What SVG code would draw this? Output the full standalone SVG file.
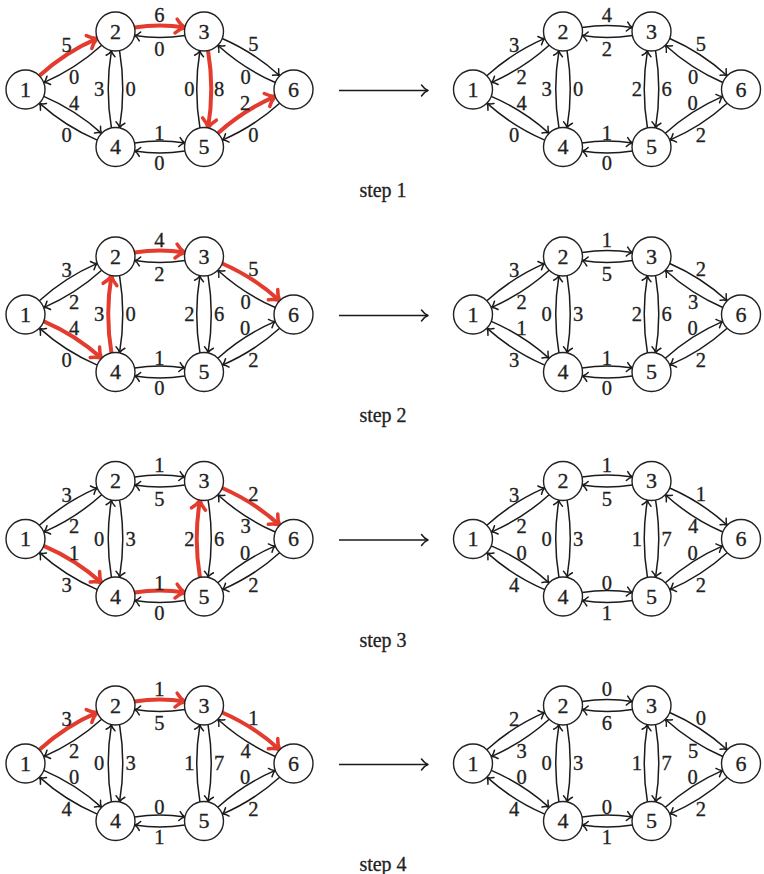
<svg xmlns="http://www.w3.org/2000/svg" width="764" height="874" viewBox="0 0 764 874">
<style>
.n circle{fill:#fff;stroke:#222;stroke-width:1.4}
text{font-family:"Liberation Serif","Times New Roman",serif;fill:#222;stroke:#222;stroke-width:0.3;text-anchor:middle}
.n text{font-size:22px}
.lb text{font-size:20.5px}
.st{font-size:20px}
.e path{fill:none;stroke:#1a1a1a;stroke-width:1.5;marker-end:url(#ab)}
.e path.r{stroke:#e33b2e;stroke-width:4;marker-end:url(#ar)}
.big{fill:none;stroke:#1a1a1a;stroke-width:1.5;marker-end:url(#ah)}
</style>
<defs>
<marker id="ab" markerUnits="userSpaceOnUse" viewBox="-8 -6 10 12" markerWidth="10" markerHeight="12" refX="0" refY="0" orient="auto" overflow="visible"><path d="M-5.5,-4.5 C-3.8,-2.2 -1.6,-0.5 0,0 C-1.6,0.5 -3.8,2.2 -5.5,4.5" fill="none" stroke="#1a1a1a" stroke-width="1.5" stroke-linecap="round" stroke-linejoin="round"/></marker>
<marker id="ar" markerUnits="userSpaceOnUse" viewBox="-12 -9 14 18" markerWidth="14" markerHeight="18" refX="0" refY="0" orient="auto" overflow="visible"><path d="M-9,-7 C-6,-3.5 -2.5,-1 0,0 C-2.5,1 -6,3.5 -9,7" fill="none" stroke="#e33b2e" stroke-width="3.5" stroke-linecap="round" stroke-linejoin="round"/></marker>
<marker id="ah" markerUnits="userSpaceOnUse" viewBox="-9 -7 11 14" markerWidth="11" markerHeight="14" refX="0" refY="0" orient="auto" overflow="visible"><path d="M-6.5,-5.5 C-4.5,-2.8 -2,-0.7 0,0 C-2,0.7 -4.5,2.8 -6.5,5.5" fill="none" stroke="#1a1a1a" stroke-width="1.5" stroke-linecap="round" stroke-linejoin="round"/></marker>
</defs>

<!-- STEP 1 LEFT -->
<g id="s1L" transform="translate(0,0)">
<g id="s1L-edges" class="e">
<path class="r" d="M39.34,75.77 Q65.22,52.30 97.28,38.43"/>
<path d="M101.66,45.23 Q75.78,68.70 43.72,82.57"/>
<path class="r" d="M134.57,27.45 Q159.75,23.5 184.93,27.45"/>
<path d="M184.93,35.55 Q159.75,39.5 134.57,35.55"/>
<path d="M111.45,127.93 Q105,89.25 111.45,50.57"/>
<path d="M119.55,50.57 Q126,89.25 119.55,127.93"/>
<path d="M199.95,127.93 Q193.5,89.25 199.95,50.57"/>
<path class="r" d="M208.05,50.57 Q214.5,89.25 208.05,127.93"/>
<path d="M222.20,38.47 Q254.05,52.32 279.70,75.73"/>
<path d="M275.30,82.53 Q243.45,68.68 217.80,45.27"/>
<path d="M43.75,96.36 Q75.75,110.03 101.61,133.32"/>
<path d="M97.25,140.14 Q65.25,126.47 39.39,103.18"/>
<path class="r" d="M217.85,133.28 Q243.48,110.05 275.27,96.40"/>
<path d="M279.65,103.22 Q254.02,126.45 222.23,140.10"/>
<path d="M134.57,142.95 Q159.75,139 184.93,142.95"/>
<path d="M184.93,151.05 Q159.75,155 134.57,151.05"/>
</g>
<g id="s1L-labels" class="lb">
<text x="66.7" y="52">5</text><text x="74" y="83.7">0</text>
<text x="159.3" y="22">6</text><text x="159.3" y="56.3">0</text>
<text x="99" y="96.3">3</text><text x="130.7" y="96.3">0</text>
<text x="189.3" y="96.3">0</text><text x="219" y="96.3">8</text>
<text x="253.3" y="51">5</text><text x="245.7" y="83.7">0</text>
<text x="74" y="110.3">4</text><text x="66.7" y="142">0</text>
<text x="245" y="110.3">2</text><text x="253.3" y="142">0</text>
<text x="159.3" y="140.3">1</text><text x="159.3" y="170.3">0</text>
</g>
<g id="s1L-n1" class="n"><circle cx="25.5" cy="89.5" r="19.5"/><text x="25.5" y="96.9">1</text></g>
<g id="s1L-n2" class="n"><circle cx="115.5" cy="31.5" r="19.5"/><text x="115.5" y="38.9">2</text></g>
<g id="s1L-n3" class="n"><circle cx="204" cy="31.5" r="19.5"/><text x="204" y="38.9">3</text></g>
<g id="s1L-n4" class="n"><circle cx="115.5" cy="147" r="19.5"/><text x="115.5" y="154.4">4</text></g>
<g id="s1L-n5" class="n"><circle cx="204" cy="147" r="19.5"/><text x="204" y="154.4">5</text></g>
<g id="s1L-n6" class="n"><circle cx="293.5" cy="89.5" r="19.5"/><text x="293.5" y="96.9">6</text></g>
</g>

<!-- STEP 1 RIGHT -->
<g id="s1R" transform="translate(447.5,0)">
<g id="s1R-edges" class="e">
<path d="M39.34,75.77 Q65.22,52.30 97.28,38.43"/>
<path d="M101.66,45.23 Q75.78,68.70 43.72,82.57"/>
<path d="M134.57,27.45 Q159.75,23.5 184.93,27.45"/>
<path d="M184.93,35.55 Q159.75,39.5 134.57,35.55"/>
<path d="M111.45,127.93 Q105,89.25 111.45,50.57"/>
<path d="M119.55,50.57 Q126,89.25 119.55,127.93"/>
<path d="M199.95,127.93 Q193.5,89.25 199.95,50.57"/>
<path d="M208.05,50.57 Q214.5,89.25 208.05,127.93"/>
<path d="M222.20,38.47 Q254.05,52.32 279.70,75.73"/>
<path d="M275.30,82.53 Q243.45,68.68 217.80,45.27"/>
<path d="M43.75,96.36 Q75.75,110.03 101.61,133.32"/>
<path d="M97.25,140.14 Q65.25,126.47 39.39,103.18"/>
<path d="M217.85,133.28 Q243.48,110.05 275.27,96.40"/>
<path d="M279.65,103.22 Q254.02,126.45 222.23,140.10"/>
<path d="M134.57,142.95 Q159.75,139 184.93,142.95"/>
<path d="M184.93,151.05 Q159.75,155 134.57,151.05"/>
</g>
<g id="s1R-labels" class="lb">
<text x="66.7" y="52">3</text><text x="74" y="83.7">2</text>
<text x="159.3" y="22">4</text><text x="159.3" y="56.3">2</text>
<text x="99" y="96.3">3</text><text x="130.7" y="96.3">0</text>
<text x="189.3" y="96.3">2</text><text x="219" y="96.3">6</text>
<text x="253.3" y="51">5</text><text x="245.7" y="83.7">0</text>
<text x="74" y="110.3">4</text><text x="66.7" y="142">0</text>
<text x="245" y="110.3">0</text><text x="253.3" y="142">2</text>
<text x="159.3" y="140.3">1</text><text x="159.3" y="170.3">0</text>
</g>
<g id="s1R-n1" class="n"><circle cx="25.5" cy="89.5" r="19.5"/><text x="25.5" y="96.9">1</text></g>
<g id="s1R-n2" class="n"><circle cx="115.5" cy="31.5" r="19.5"/><text x="115.5" y="38.9">2</text></g>
<g id="s1R-n3" class="n"><circle cx="204" cy="31.5" r="19.5"/><text x="204" y="38.9">3</text></g>
<g id="s1R-n4" class="n"><circle cx="115.5" cy="147" r="19.5"/><text x="115.5" y="154.4">4</text></g>
<g id="s1R-n5" class="n"><circle cx="204" cy="147" r="19.5"/><text x="204" y="154.4">5</text></g>
<g id="s1R-n6" class="n"><circle cx="293.5" cy="89.5" r="19.5"/><text x="293.5" y="96.9">6</text></g>
</g>

<!-- STEP 2 LEFT -->
<g id="s2L" transform="translate(0,225)">
<g id="s2L-edges" class="e">
<path d="M39.34,75.77 Q65.22,52.30 97.28,38.43"/>
<path d="M101.66,45.23 Q75.78,68.70 43.72,82.57"/>
<path class="r" d="M134.57,27.45 Q159.75,23.5 184.93,27.45"/>
<path d="M184.93,35.55 Q159.75,39.5 134.57,35.55"/>
<path class="r" d="M111.45,127.93 Q105,89.25 111.45,50.57"/>
<path d="M119.55,50.57 Q126,89.25 119.55,127.93"/>
<path d="M199.95,127.93 Q193.5,89.25 199.95,50.57"/>
<path d="M208.05,50.57 Q214.5,89.25 208.05,127.93"/>
<path class="r" d="M222.20,38.47 Q254.05,52.32 279.70,75.73"/>
<path d="M275.30,82.53 Q243.45,68.68 217.80,45.27"/>
<path class="r" d="M43.75,96.36 Q75.75,110.03 101.61,133.32"/>
<path d="M97.25,140.14 Q65.25,126.47 39.39,103.18"/>
<path d="M217.85,133.28 Q243.48,110.05 275.27,96.40"/>
<path d="M279.65,103.22 Q254.02,126.45 222.23,140.10"/>
<path d="M134.57,142.95 Q159.75,139 184.93,142.95"/>
<path d="M184.93,151.05 Q159.75,155 134.57,151.05"/>
</g>
<g id="s2L-labels" class="lb">
<text x="66.7" y="52">3</text><text x="74" y="83.7">2</text>
<text x="159.3" y="22">4</text><text x="159.3" y="56.3">2</text>
<text x="99" y="96.3">3</text><text x="130.7" y="96.3">0</text>
<text x="189.3" y="96.3">2</text><text x="219" y="96.3">6</text>
<text x="253.3" y="51">5</text><text x="245.7" y="83.7">0</text>
<text x="74" y="110.3">4</text><text x="66.7" y="142">0</text>
<text x="245" y="110.3">0</text><text x="253.3" y="142">2</text>
<text x="159.3" y="140.3">1</text><text x="159.3" y="170.3">0</text>
</g>
<g id="s2L-n1" class="n"><circle cx="25.5" cy="89.5" r="19.5"/><text x="25.5" y="96.9">1</text></g>
<g id="s2L-n2" class="n"><circle cx="115.5" cy="31.5" r="19.5"/><text x="115.5" y="38.9">2</text></g>
<g id="s2L-n3" class="n"><circle cx="204" cy="31.5" r="19.5"/><text x="204" y="38.9">3</text></g>
<g id="s2L-n4" class="n"><circle cx="115.5" cy="147" r="19.5"/><text x="115.5" y="154.4">4</text></g>
<g id="s2L-n5" class="n"><circle cx="204" cy="147" r="19.5"/><text x="204" y="154.4">5</text></g>
<g id="s2L-n6" class="n"><circle cx="293.5" cy="89.5" r="19.5"/><text x="293.5" y="96.9">6</text></g>
</g>

<!-- STEP 2 RIGHT -->
<g id="s2R" transform="translate(447.5,225)">
<g id="s2R-edges" class="e">
<path d="M39.34,75.77 Q65.22,52.30 97.28,38.43"/>
<path d="M101.66,45.23 Q75.78,68.70 43.72,82.57"/>
<path d="M134.57,27.45 Q159.75,23.5 184.93,27.45"/>
<path d="M184.93,35.55 Q159.75,39.5 134.57,35.55"/>
<path d="M111.45,127.93 Q105,89.25 111.45,50.57"/>
<path d="M119.55,50.57 Q126,89.25 119.55,127.93"/>
<path d="M199.95,127.93 Q193.5,89.25 199.95,50.57"/>
<path d="M208.05,50.57 Q214.5,89.25 208.05,127.93"/>
<path d="M222.20,38.47 Q254.05,52.32 279.70,75.73"/>
<path d="M275.30,82.53 Q243.45,68.68 217.80,45.27"/>
<path d="M43.75,96.36 Q75.75,110.03 101.61,133.32"/>
<path d="M97.25,140.14 Q65.25,126.47 39.39,103.18"/>
<path d="M217.85,133.28 Q243.48,110.05 275.27,96.40"/>
<path d="M279.65,103.22 Q254.02,126.45 222.23,140.10"/>
<path d="M134.57,142.95 Q159.75,139 184.93,142.95"/>
<path d="M184.93,151.05 Q159.75,155 134.57,151.05"/>
</g>
<g id="s2R-labels" class="lb">
<text x="66.7" y="52">3</text><text x="74" y="83.7">2</text>
<text x="159.3" y="22">1</text><text x="159.3" y="56.3">5</text>
<text x="99" y="96.3">0</text><text x="130.7" y="96.3">3</text>
<text x="189.3" y="96.3">2</text><text x="219" y="96.3">6</text>
<text x="253.3" y="51">2</text><text x="245.7" y="83.7">3</text>
<text x="74" y="110.3">1</text><text x="66.7" y="142">3</text>
<text x="245" y="110.3">0</text><text x="253.3" y="142">2</text>
<text x="159.3" y="140.3">1</text><text x="159.3" y="170.3">0</text>
</g>
<g id="s2R-n1" class="n"><circle cx="25.5" cy="89.5" r="19.5"/><text x="25.5" y="96.9">1</text></g>
<g id="s2R-n2" class="n"><circle cx="115.5" cy="31.5" r="19.5"/><text x="115.5" y="38.9">2</text></g>
<g id="s2R-n3" class="n"><circle cx="204" cy="31.5" r="19.5"/><text x="204" y="38.9">3</text></g>
<g id="s2R-n4" class="n"><circle cx="115.5" cy="147" r="19.5"/><text x="115.5" y="154.4">4</text></g>
<g id="s2R-n5" class="n"><circle cx="204" cy="147" r="19.5"/><text x="204" y="154.4">5</text></g>
<g id="s2R-n6" class="n"><circle cx="293.5" cy="89.5" r="19.5"/><text x="293.5" y="96.9">6</text></g>
</g>

<!-- STEP 3 LEFT -->
<g id="s3L" transform="translate(0,449.5)">
<g id="s3L-edges" class="e">
<path d="M39.34,75.77 Q65.22,52.30 97.28,38.43"/>
<path d="M101.66,45.23 Q75.78,68.70 43.72,82.57"/>
<path d="M134.57,27.45 Q159.75,23.5 184.93,27.45"/>
<path d="M184.93,35.55 Q159.75,39.5 134.57,35.55"/>
<path d="M111.45,127.93 Q105,89.25 111.45,50.57"/>
<path d="M119.55,50.57 Q126,89.25 119.55,127.93"/>
<path class="r" d="M199.95,127.93 Q193.5,89.25 199.95,50.57"/>
<path d="M208.05,50.57 Q214.5,89.25 208.05,127.93"/>
<path class="r" d="M222.20,38.47 Q254.05,52.32 279.70,75.73"/>
<path d="M275.30,82.53 Q243.45,68.68 217.80,45.27"/>
<path class="r" d="M43.75,96.36 Q75.75,110.03 101.61,133.32"/>
<path d="M97.25,140.14 Q65.25,126.47 39.39,103.18"/>
<path d="M217.85,133.28 Q243.48,110.05 275.27,96.40"/>
<path d="M279.65,103.22 Q254.02,126.45 222.23,140.10"/>
<path class="r" d="M134.57,142.95 Q159.75,139 184.93,142.95"/>
<path d="M184.93,151.05 Q159.75,155 134.57,151.05"/>
</g>
<g id="s3L-labels" class="lb">
<text x="66.7" y="52">3</text><text x="74" y="83.7">2</text>
<text x="159.3" y="22">1</text><text x="159.3" y="56.3">5</text>
<text x="99" y="96.3">0</text><text x="130.7" y="96.3">3</text>
<text x="189.3" y="96.3">2</text><text x="219" y="96.3">6</text>
<text x="253.3" y="51">2</text><text x="245.7" y="83.7">3</text>
<text x="74" y="110.3">1</text><text x="66.7" y="142">3</text>
<text x="245" y="110.3">0</text><text x="253.3" y="142">2</text>
<text x="159.3" y="140.3">1</text><text x="159.3" y="170.3">0</text>
</g>
<g id="s3L-n1" class="n"><circle cx="25.5" cy="89.5" r="19.5"/><text x="25.5" y="96.9">1</text></g>
<g id="s3L-n2" class="n"><circle cx="115.5" cy="31.5" r="19.5"/><text x="115.5" y="38.9">2</text></g>
<g id="s3L-n3" class="n"><circle cx="204" cy="31.5" r="19.5"/><text x="204" y="38.9">3</text></g>
<g id="s3L-n4" class="n"><circle cx="115.5" cy="147" r="19.5"/><text x="115.5" y="154.4">4</text></g>
<g id="s3L-n5" class="n"><circle cx="204" cy="147" r="19.5"/><text x="204" y="154.4">5</text></g>
<g id="s3L-n6" class="n"><circle cx="293.5" cy="89.5" r="19.5"/><text x="293.5" y="96.9">6</text></g>
</g>

<!-- STEP 3 RIGHT -->
<g id="s3R" transform="translate(447.5,449.5)">
<g id="s3R-edges" class="e">
<path d="M39.34,75.77 Q65.22,52.30 97.28,38.43"/>
<path d="M101.66,45.23 Q75.78,68.70 43.72,82.57"/>
<path d="M134.57,27.45 Q159.75,23.5 184.93,27.45"/>
<path d="M184.93,35.55 Q159.75,39.5 134.57,35.55"/>
<path d="M111.45,127.93 Q105,89.25 111.45,50.57"/>
<path d="M119.55,50.57 Q126,89.25 119.55,127.93"/>
<path d="M199.95,127.93 Q193.5,89.25 199.95,50.57"/>
<path d="M208.05,50.57 Q214.5,89.25 208.05,127.93"/>
<path d="M222.20,38.47 Q254.05,52.32 279.70,75.73"/>
<path d="M275.30,82.53 Q243.45,68.68 217.80,45.27"/>
<path d="M43.75,96.36 Q75.75,110.03 101.61,133.32"/>
<path d="M97.25,140.14 Q65.25,126.47 39.39,103.18"/>
<path d="M217.85,133.28 Q243.48,110.05 275.27,96.40"/>
<path d="M279.65,103.22 Q254.02,126.45 222.23,140.10"/>
<path d="M134.57,142.95 Q159.75,139 184.93,142.95"/>
<path d="M184.93,151.05 Q159.75,155 134.57,151.05"/>
</g>
<g id="s3R-labels" class="lb">
<text x="66.7" y="52">3</text><text x="74" y="83.7">2</text>
<text x="159.3" y="22">1</text><text x="159.3" y="56.3">5</text>
<text x="99" y="96.3">0</text><text x="130.7" y="96.3">3</text>
<text x="189.3" y="96.3">1</text><text x="219" y="96.3">7</text>
<text x="253.3" y="51">1</text><text x="245.7" y="83.7">4</text>
<text x="74" y="110.3">0</text><text x="66.7" y="142">4</text>
<text x="245" y="110.3">0</text><text x="253.3" y="142">2</text>
<text x="159.3" y="140.3">0</text><text x="159.3" y="170.3">1</text>
</g>
<g id="s3R-n1" class="n"><circle cx="25.5" cy="89.5" r="19.5"/><text x="25.5" y="96.9">1</text></g>
<g id="s3R-n2" class="n"><circle cx="115.5" cy="31.5" r="19.5"/><text x="115.5" y="38.9">2</text></g>
<g id="s3R-n3" class="n"><circle cx="204" cy="31.5" r="19.5"/><text x="204" y="38.9">3</text></g>
<g id="s3R-n4" class="n"><circle cx="115.5" cy="147" r="19.5"/><text x="115.5" y="154.4">4</text></g>
<g id="s3R-n5" class="n"><circle cx="204" cy="147" r="19.5"/><text x="204" y="154.4">5</text></g>
<g id="s3R-n6" class="n"><circle cx="293.5" cy="89.5" r="19.5"/><text x="293.5" y="96.9">6</text></g>
</g>

<!-- STEP 4 LEFT -->
<g id="s4L" transform="translate(0,674)">
<g id="s4L-edges" class="e">
<path class="r" d="M39.34,75.77 Q65.22,52.30 97.28,38.43"/>
<path d="M101.66,45.23 Q75.78,68.70 43.72,82.57"/>
<path class="r" d="M134.57,27.45 Q159.75,23.5 184.93,27.45"/>
<path d="M184.93,35.55 Q159.75,39.5 134.57,35.55"/>
<path d="M111.45,127.93 Q105,89.25 111.45,50.57"/>
<path d="M119.55,50.57 Q126,89.25 119.55,127.93"/>
<path d="M199.95,127.93 Q193.5,89.25 199.95,50.57"/>
<path d="M208.05,50.57 Q214.5,89.25 208.05,127.93"/>
<path class="r" d="M222.20,38.47 Q254.05,52.32 279.70,75.73"/>
<path d="M275.30,82.53 Q243.45,68.68 217.80,45.27"/>
<path d="M43.75,96.36 Q75.75,110.03 101.61,133.32"/>
<path d="M97.25,140.14 Q65.25,126.47 39.39,103.18"/>
<path d="M217.85,133.28 Q243.48,110.05 275.27,96.40"/>
<path d="M279.65,103.22 Q254.02,126.45 222.23,140.10"/>
<path d="M134.57,142.95 Q159.75,139 184.93,142.95"/>
<path d="M184.93,151.05 Q159.75,155 134.57,151.05"/>
</g>
<g id="s4L-labels" class="lb">
<text x="66.7" y="52">3</text><text x="74" y="83.7">2</text>
<text x="159.3" y="22">1</text><text x="159.3" y="56.3">5</text>
<text x="99" y="96.3">0</text><text x="130.7" y="96.3">3</text>
<text x="189.3" y="96.3">1</text><text x="219" y="96.3">7</text>
<text x="253.3" y="51">1</text><text x="245.7" y="83.7">4</text>
<text x="74" y="110.3">0</text><text x="66.7" y="142">4</text>
<text x="245" y="110.3">0</text><text x="253.3" y="142">2</text>
<text x="159.3" y="140.3">0</text><text x="159.3" y="170.3">1</text>
</g>
<g id="s4L-n1" class="n"><circle cx="25.5" cy="89.5" r="19.5"/><text x="25.5" y="96.9">1</text></g>
<g id="s4L-n2" class="n"><circle cx="115.5" cy="31.5" r="19.5"/><text x="115.5" y="38.9">2</text></g>
<g id="s4L-n3" class="n"><circle cx="204" cy="31.5" r="19.5"/><text x="204" y="38.9">3</text></g>
<g id="s4L-n4" class="n"><circle cx="115.5" cy="147" r="19.5"/><text x="115.5" y="154.4">4</text></g>
<g id="s4L-n5" class="n"><circle cx="204" cy="147" r="19.5"/><text x="204" y="154.4">5</text></g>
<g id="s4L-n6" class="n"><circle cx="293.5" cy="89.5" r="19.5"/><text x="293.5" y="96.9">6</text></g>
</g>

<!-- STEP 4 RIGHT -->
<g id="s4R" transform="translate(447.5,674)">
<g id="s4R-edges" class="e">
<path d="M39.34,75.77 Q65.22,52.30 97.28,38.43"/>
<path d="M101.66,45.23 Q75.78,68.70 43.72,82.57"/>
<path d="M134.57,27.45 Q159.75,23.5 184.93,27.45"/>
<path d="M184.93,35.55 Q159.75,39.5 134.57,35.55"/>
<path d="M111.45,127.93 Q105,89.25 111.45,50.57"/>
<path d="M119.55,50.57 Q126,89.25 119.55,127.93"/>
<path d="M199.95,127.93 Q193.5,89.25 199.95,50.57"/>
<path d="M208.05,50.57 Q214.5,89.25 208.05,127.93"/>
<path d="M222.20,38.47 Q254.05,52.32 279.70,75.73"/>
<path d="M275.30,82.53 Q243.45,68.68 217.80,45.27"/>
<path d="M43.75,96.36 Q75.75,110.03 101.61,133.32"/>
<path d="M97.25,140.14 Q65.25,126.47 39.39,103.18"/>
<path d="M217.85,133.28 Q243.48,110.05 275.27,96.40"/>
<path d="M279.65,103.22 Q254.02,126.45 222.23,140.10"/>
<path d="M134.57,142.95 Q159.75,139 184.93,142.95"/>
<path d="M184.93,151.05 Q159.75,155 134.57,151.05"/>
</g>
<g id="s4R-labels" class="lb">
<text x="66.7" y="52">2</text><text x="74" y="83.7">3</text>
<text x="159.3" y="22">0</text><text x="159.3" y="56.3">6</text>
<text x="99" y="96.3">0</text><text x="130.7" y="96.3">3</text>
<text x="189.3" y="96.3">1</text><text x="219" y="96.3">7</text>
<text x="253.3" y="51">0</text><text x="245.7" y="83.7">5</text>
<text x="74" y="110.3">0</text><text x="66.7" y="142">4</text>
<text x="245" y="110.3">0</text><text x="253.3" y="142">2</text>
<text x="159.3" y="140.3">0</text><text x="159.3" y="170.3">1</text>
</g>
<g id="s4R-n1" class="n"><circle cx="25.5" cy="89.5" r="19.5"/><text x="25.5" y="96.9">1</text></g>
<g id="s4R-n2" class="n"><circle cx="115.5" cy="31.5" r="19.5"/><text x="115.5" y="38.9">2</text></g>
<g id="s4R-n3" class="n"><circle cx="204" cy="31.5" r="19.5"/><text x="204" y="38.9">3</text></g>
<g id="s4R-n4" class="n"><circle cx="115.5" cy="147" r="19.5"/><text x="115.5" y="154.4">4</text></g>
<g id="s4R-n5" class="n"><circle cx="204" cy="147" r="19.5"/><text x="204" y="154.4">5</text></g>
<g id="s4R-n6" class="n"><circle cx="293.5" cy="89.5" r="19.5"/><text x="293.5" y="96.9">6</text></g>
</g>

<!-- step arrows and captions -->
<g id="step-arrows">
<path class="big" d="M339,90.5 H428"/>
<path class="big" d="M339,315.5 H428"/>
<path class="big" d="M339,540 H428"/>
<path class="big" d="M339,764.5 H428"/>
</g>
<g id="captions">
<text class="st" x="383" y="197.3">step 1</text>
<text class="st" x="383" y="422">step 2</text>
<text class="st" x="383" y="646.5">step 3</text>
<text class="st" x="383" y="871">step 4</text>
</g>
</svg>
